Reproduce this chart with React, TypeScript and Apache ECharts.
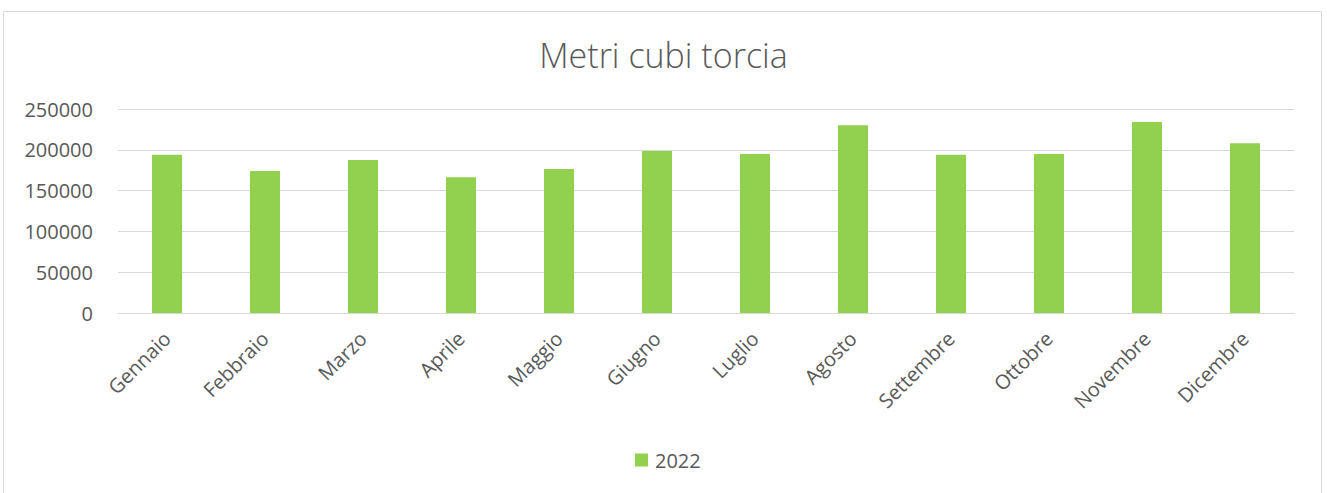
import React, { useEffect, useRef } from "react";
import * as echarts from "echarts";

const categories = ["Gennaio", "Febbraio", "Marzo", "Aprile", "Maggio", "Giugno", "Luglio", "Agosto", "Settembre", "Ottobre", "Novembre", "Dicembre"];
const values2022 = [194000, 174000, 187500, 166500, 176500, 198500, 195000, 230000, 194000, 195000, 234000, 208000];
const seriesName = "2022";
const chartTitle = "Metri cubi torcia";

export default function App() {
  const ref = useRef<HTMLDivElement>(null);
  useEffect(() => {
    if (!ref.current) return;
    const chart = echarts.init(ref.current, undefined, { renderer: "svg" });
    const font = "'Open Sans', sans-serif";
    chart.setOption({
      animation: false,
      backgroundColor: "#ffffff",
      title: {
        text: chartTitle,
        left: "center",
        top: 33,
        textStyle: { fontFamily: font, fontSize: 34, fontWeight: 300, color: "#595959" },
      },
      legend: {
        bottom: 18,
        left: 630,
        itemWidth: 13,
        itemHeight: 13,
        itemGap: 6,
        icon: "rect",
        textStyle: { fontFamily: font, fontSize: 20, color: "#595959", padding: [0, 0, 0, 2] },
        data: [seriesName],
      },
      grid: { left: 118, right: 33, top: 109, bottom: 180, containLabel: false },
      xAxis: {
        type: "category",
        data: categories,
        axisLine: { show: true, lineStyle: { color: "#d9d9d9", width: 1 } },
        axisTick: { show: false },
        axisLabel: { interval: 0, rotate: 45, margin: 22, fontFamily: font, fontSize: 20, color: "#595959" },
      },
      yAxis: {
        type: "value",
        min: 0,
        max: 250000,
        interval: 50000,
        axisLine: { show: false },
        axisTick: { show: false },
        splitLine: { lineStyle: { color: "#d9d9d9", width: 1 } },
        axisLabel: { margin: 25, fontFamily: font, fontSize: 20, color: "#595959", formatter: (v: number) => String(v) },
      },
      series: [
        {
          name: seriesName,
          type: "bar",
          data: values2022,
          barWidth: 30,
          itemStyle: { color: "#92D050" },
        },
      ],
      graphic: [
        {
          type: "rect",
          shape: { x: 3.5, y: 11.5, width: 1318, height: 490 },
          style: { fill: "none", stroke: "#d9d9d9", lineWidth: 1 },
          silent: true,
        },
      ],
    });
    return () => chart.dispose();
  }, []);
  return (
    <div
      ref={ref}
      style={{ position: "fixed", left: 0, top: 0, width: 1327, height: 493 }}
    />
  );
}
